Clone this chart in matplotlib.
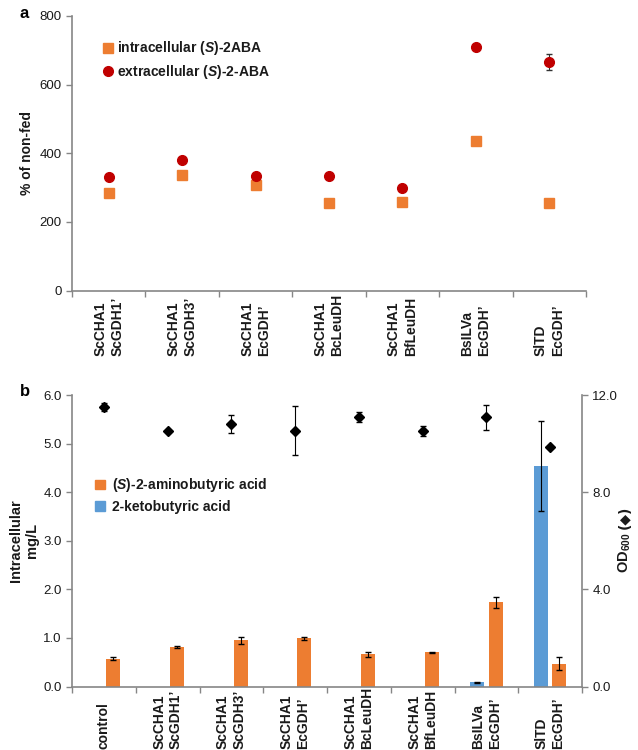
import matplotlib
matplotlib.use("Agg")
import matplotlib.pyplot as plt
import matplotlib.transforms as mtrans
from matplotlib.lines import Line2D
from matplotlib.patches import Patch

plt.rcParams['font.family'] = ['Liberation Sans', 'DejaVu Sans']
plt.rcParams['mathtext.fontset'] = 'custom'
plt.rcParams['mathtext.rm'] = 'Liberation Sans'
plt.rcParams['mathtext.it'] = 'Liberation Sans:italic'
plt.rcParams['mathtext.bf'] = 'Liberation Sans:bold'
try:
    plt.rcParams['mathtext.bfit'] = 'Liberation Sans:bold:italic'
except KeyError:
    pass

# ---------------- data: panel a ----------------
top_labels = ["ScCHA1\nScGDH1\u2019", "ScCHA1\nScGDH3\u2019", "ScCHA1\nEcGDH\u2019",
              "ScCHA1\nBcLeuDH", "ScCHA1\nBfLeuDH", "BsILVa\nEcGDH\u2019", "SlTD\nEcGDH\u2019"]
intra_pct = [284, 336, 307, 254, 259, 436, 255]
intra_err = [4, 4, 4, 4, 4, 6, 12]
extra_pct = [330, 380, 333, 335, 298, 711, 666]
extra_err = [4, 5, 4, 4, 4, 8, 23]

# ---------------- data: panel b ----------------
bot_labels = ["control", "ScCHA1\nScGDH1\u2019", "ScCHA1\nScGDH3\u2019", "ScCHA1\nEcGDH\u2019",
              "ScCHA1\nBcLeuDH", "ScCHA1\nBfLeuDH", "BsILVa\nEcGDH\u2019", "SlTD\nEcGDH\u2019"]
aba = [0.57, 0.81, 0.95, 0.99, 0.66, 0.70, 1.73, 0.47]
aba_err = [0.03, 0.02, 0.07, 0.025, 0.055, 0.02, 0.11, 0.13]
keto = [0.0, 0.0, 0.0, 0.0, 0.0, 0.0, 0.09, 4.54]
keto_err = [0.0, 0.0, 0.0, 0.0, 0.0, 0.0, 0.01, 0.93]
od600 = [11.51, 10.53, 10.80, 10.53, 11.08, 10.53, 11.08, 9.87]
od600_err = [0.15, 0.0, 0.38, 1.0, 0.2, 0.2, 0.51, 0.05]

ORANGE = "#ED7D31"
BLUE = "#5B9BD5"
RED = "#C00000"
SPINE = "#868686"
TXT = "#1a1a1a"

W, H = 638, 750
fig = plt.figure(figsize=(W / 100, H / 100), dpi=100)

def fax(l, t, r, b):
    return [l / W, 1 - b / H, (r - l) / W, (b - t) / H]

# ================= panel a =================
ax1 = fig.add_axes(fax(72, 16, 586, 290.5))
n1 = len(top_labels)
xs1 = [i + 0.5 for i in range(n1)]
ax1.errorbar(xs1, intra_pct, yerr=intra_err, fmt='s', color=ORANGE, ms=6.8,
             ecolor='#333333', elinewidth=0.8, capsize=2, mec=ORANGE, zorder=3)
ax1.errorbar(xs1, extra_pct, yerr=extra_err, fmt='o', color=RED, ms=7,
             ecolor='#333333', elinewidth=0.8, capsize=2, mec=RED, zorder=4)
ax1.set_xlim(0, n1)
ax1.set_ylim(0, 800)
ax1.set_yticks([0, 200, 400, 600, 800])
ax1.set_xticks(range(n1 + 1))
ax1.set_xticklabels([])
for s in ['top', 'right']:
    ax1.spines[s].set_visible(False)
for s in ['left', 'bottom']:
    ax1.spines[s].set_color(SPINE)
    ax1.spines[s].set_linewidth(1.2)
ax1.tick_params(axis='both', direction='out', length=4, color=SPINE, width=1,
                labelsize=9.5, labelcolor=TXT)
ax1.set_ylabel("% of non-fed", fontsize=10, fontweight='bold', color=TXT, labelpad=4)
tr1 = mtrans.blended_transform_factory(ax1.transData, fig.transFigure)
for x, lab in zip(xs1, top_labels):
    ax1.text(x, 1 - 356 / H, lab, transform=tr1, rotation=90, ha='center', va='bottom',
             multialignment='left', fontsize=10, fontweight='bold', color=TXT,
             linespacing=1.25)
h1 = [Line2D([], [], marker='s', ls='', color=ORANGE, ms=6.8),
      Line2D([], [], marker='o', ls='', color=RED, ms=7)]
leg1 = ax1.legend(h1, [r"intracellular ($\mathbfit{S}$)-2ABA", r"extracellular ($\mathbfit{S}$)-2-ABA"],
                  loc='upper left', bbox_to_anchor=(0.045, 0.935), frameon=False,
                  prop={'weight': 'bold', 'size': 10}, handletextpad=0.2,
                  handlelength=1.0, labelspacing=0.4, borderaxespad=0)
for t in leg1.get_texts():
    t.set_color(TXT)
fig.text(24 / W, 1 - 13 / H, "a", fontsize=12, fontweight='bold', ha='center', va='center')

# ================= panel b =================
ax2 = fig.add_axes(fax(72, 395, 582, 686.5))
n2 = len(bot_labels)
xs2 = [i + 0.5 for i in range(n2)]
bw = 0.22
off = 0.145
ax2.bar([x - off for x in xs2], keto, width=bw, color=BLUE, zorder=2)
ax2.errorbar([x - off for x in xs2][6:], keto[6:], yerr=keto_err[6:], fmt='none',
             ecolor='black', elinewidth=0.8, capsize=2, zorder=3)
ax2.bar([x + off for x in xs2], aba, width=bw, color=ORANGE, zorder=2)
ax2.errorbar([x + off for x in xs2], aba, yerr=aba_err, fmt='none',
             ecolor='black', elinewidth=0.8, capsize=2, zorder=3)
ax2.set_xlim(0, n2)
ax2.set_ylim(0, 6)
ax2.set_yticks([0, 1, 2, 3, 4, 5, 6])
ax2.set_yticklabels([f"{v:.1f}" for v in range(7)])
ax2.set_xticks(range(n2 + 1))
ax2.set_xticklabels([])
ax2.spines['top'].set_visible(False)
ax2.spines['right'].set_visible(False)
for s in ['left', 'bottom']:
    ax2.spines[s].set_color(SPINE)
    ax2.spines[s].set_linewidth(1.2)
ax2.tick_params(axis='both', direction='out', length=4, color=SPINE, width=1,
                labelsize=9.5, labelcolor=TXT)
ax2.set_ylabel("Intracellular\nmg/L", fontsize=10.5, fontweight='bold', color=TXT,
               labelpad=3, linespacing=1.2)

ax3 = ax2.twinx()
ax3.errorbar(xs2, od600, yerr=od600_err, fmt='D', color='black', ms=5,
             ecolor='black', elinewidth=0.8, capsize=2, zorder=4)
ax3.set_ylim(0, 12)
ax3.set_yticks([0, 4, 8, 12])
ax3.set_yticklabels([f"{v:.1f}" for v in [0, 4, 8, 12]])
for s in ['top', 'left', 'bottom']:
    ax3.spines[s].set_visible(False)
ax3.spines['right'].set_color(SPINE)
ax3.spines['right'].set_linewidth(1.2)
ax3.tick_params(axis='y', direction='out', length=4, color=SPINE, width=1,
                labelsize=9.5, labelcolor=TXT)

# right axis label: OD600 (diamond), built from two texts
od_txt = fig.text(625 / W, 1 - 573 / H, "$\\mathbf{OD_{600}}$", rotation=90,
                  ha='center', va='bottom', fontsize=10.5, color=TXT)
fig.canvas.draw()
bb = od_txt.get_window_extent(renderer=fig.canvas.get_renderer())
top_px = bb.y1
fig.text(625 / W, (top_px + 3) / H, "(\u25c6)", rotation=90, ha='center', va='bottom',
         fontsize=10, fontweight='bold', color=TXT, family=['DejaVu Sans'])

tr2 = mtrans.blended_transform_factory(ax2.transData, fig.transFigure)
for x, lab in zip(xs2, bot_labels):
    ax2.text(x, 1 - 749 / H, lab, transform=tr2, rotation=90, ha='center', va='bottom',
             multialignment='left', fontsize=10, fontweight='bold', color=TXT,
             linespacing=1.25)
h2 = [Patch(color=ORANGE), Patch(color=BLUE)]
leg2 = ax2.legend(h2, [r"($\mathbfit{S}$)-2-aminobutyric acid", "2-ketobutyric acid"],
                  loc='upper left', bbox_to_anchor=(0.035, 0.74), frameon=False,
                  prop={'weight': 'bold', 'size': 10}, handletextpad=0.5,
                  handlelength=0.7, handleheight=0.7, labelspacing=0.4, borderaxespad=0)
for t in leg2.get_texts():
    t.set_color(TXT)
fig.text(25 / W, 1 - 391 / H, "b", fontsize=12, fontweight='bold', ha='center', va='center')

fig.savefig("out.png", dpi=100)
